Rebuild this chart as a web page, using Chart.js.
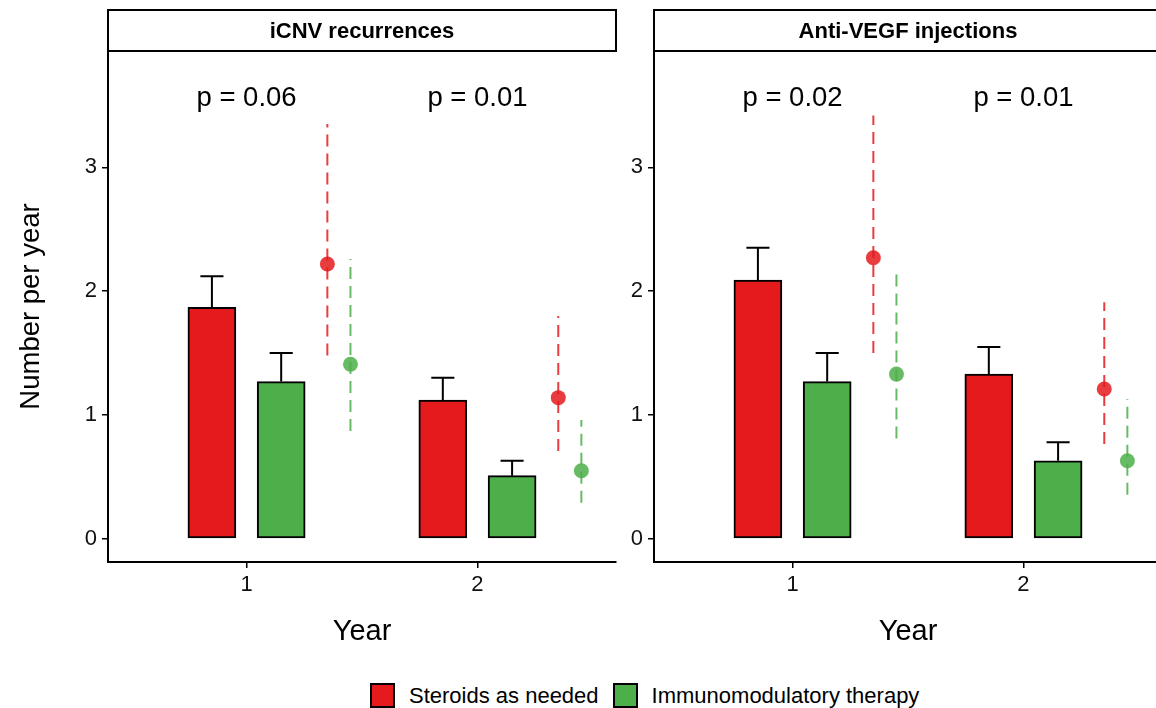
<!DOCTYPE html>
<html>
<head>
<meta charset="utf-8">
<title>iCNV recurrences and anti-VEGF injections</title>
<script src="https://cdn.jsdelivr.net/npm/chart.js@4.4.1/dist/chart.umd.min.js"></script>
<style>
    html, body {
        margin: 0;
        padding: 0;
        background: #fff;
        width: 1156px;
        height: 708px;
        overflow: hidden;
        font-family: "Liberation Sans", Arial, sans-serif;
    }
    .panel {
        position: absolute;
        top: 0;
    }
    #panel-left { left: 0; }
    #panel-right { left: 546px; }
    .legend {
        position: absolute;
        top: 683px;
        left: 370px;
        display: flex;
        align-items: center;
        font-size: 22px;
        line-height: 25px;
        color: #000;
        white-space: nowrap;
    }
    .legend .box {
        width: 21px;
        height: 21px;
        border: 2px solid #000;
        margin-right: 14px;
    }
    .legend .item {
        display: flex;
        align-items: center;
        margin-right: 14px;
    }
</style>
</head>
<body>
<canvas id="panel-left" class="panel" width="640" height="660"></canvas>
<canvas id="panel-right" class="panel" width="640" height="660"></canvas>
<div class="legend" id="legend"></div>

<script>
// ---- data ----
const years = [1, 2];
const yTicks = [0, 1, 2, 3];
const groups = ['Steroids as needed', 'Immunomodulatory therapy'];

// iCNV recurrences: bars = mean, whisker = mean + SE
const icnvSteroidMean = [1.87, 1.12];
const icnvSteroidUpper = [2.12, 1.30];
const icnvImmunoMean = [1.27, 0.51];
const icnvImmunoUpper = [1.50, 0.63];
// iCNV recurrences: model rate with 95% CI
const icnvSteroidRate = [2.22, 1.14];
const icnvSteroidLow = [1.48, 0.71];
const icnvSteroidHigh = [3.35, 1.80];
const icnvImmunoRate = [1.41, 0.55];
const icnvImmunoLow = [0.87, 0.29];
const icnvImmunoHigh = [2.26, 0.96];
const icnvPValues = ['p = 0.06', 'p = 0.01'];

// Anti-VEGF injections
const vegfSteroidMean = [2.09, 1.33];
const vegfSteroidUpper = [2.35, 1.55];
const vegfImmunoMean = [1.27, 0.63];
const vegfImmunoUpper = [1.50, 0.78];
const vegfSteroidRate = [2.27, 1.21];
const vegfSteroidLow = [1.50, 0.765];
const vegfSteroidHigh = [3.42, 1.91];
const vegfImmunoRate = [1.33, 0.63];
const vegfImmunoLow = [0.81, 0.355];
const vegfImmunoHigh = [2.17, 1.13];
const vegfPValues = ['p = 0.02', 'p = 0.01'];

// ---- styling ----
const RED = '#E41A1C';
const GREEN = '#4DAF4A';
const RED_A = 'rgba(228, 26, 28, 0.85)';
const GREEN_A = 'rgba(77, 175, 74, 0.85)';
const FONT = '"Liberation Sans", Arial, sans-serif';
const P_LABEL_Y = 3.56;

Chart.defaults.font.family = FONT;
Chart.defaults.color = '#000';

function ciSegments(xOffset, low, high) {
    const pts = [];
    years.forEach((yr, i) => {
        pts.push({ x: yr + xOffset, y: low[i] });
        pts.push({ x: yr + xOffset, y: high[i] });
        pts.push({ x: yr + xOffset, y: null });
    });
    return pts;
}

// strip title above the panel, ggplot style
const stripPlugin = {
    id: 'strip',
    afterDraw(chart, args, opts) {
        const { ctx, chartArea } = chart;
        ctx.save();
        ctx.fillStyle = '#fff';
        ctx.strokeStyle = '#000';
        ctx.lineWidth = 2;
        ctx.fillRect(chartArea.left, 10, chartArea.right - chartArea.left, chartArea.top - 10);
        ctx.strokeRect(chartArea.left, 10, chartArea.right - chartArea.left, chartArea.top - 10);
        ctx.fillStyle = '#000';
        ctx.font = `bold 22px ${FONT}`;
        ctx.textAlign = 'center';
        ctx.textBaseline = 'middle';
        ctx.fillText(opts.text, (chartArea.left + chartArea.right) / 2, (10 + chartArea.top) / 2 + 1);
        ctx.restore();
    }
};

// whiskers (mean + SE) on top of the bars, and p-value labels
const extrasPlugin = {
    id: 'extras',
    afterDatasetsDraw(chart, args, opts) {
        const { ctx } = chart;
        const xs = chart.scales.x;
        const ys = chart.scales.y;
        ctx.save();
        ctx.strokeStyle = '#000';
        ctx.lineWidth = 2;
        chart.data.datasets.forEach(ds => {
            if (!ds.upper) return;
            ds.data.forEach((pt, i) => {
                const x = xs.getPixelForValue(pt.x);
                const half = xs.getPixelForValue(pt.x + 0.05) - x;
                const yTop = ys.getPixelForValue(pt.y);
                const yUp = ys.getPixelForValue(ds.upper[i]);
                ctx.beginPath();
                ctx.moveTo(x, yTop);
                ctx.lineTo(x, yUp);
                ctx.moveTo(x - half, yUp);
                ctx.lineTo(x + half, yUp);
                ctx.stroke();
            });
        });
        ctx.fillStyle = '#000';
        ctx.font = `27.5px ${FONT}`;
        ctx.textAlign = 'center';
        ctx.textBaseline = 'middle';
        opts.pValues.forEach((p, i) => {
            ctx.fillText(p, xs.getPixelForValue(years[i]), ys.getPixelForValue(P_LABEL_Y));
        });
        ctx.restore();
    }
};

function makePanel(id, p) {
    const datasets = [
        {
            type: 'bar', label: groups[0], order: 3,
            data: years.map((yr, i) => ({ x: yr - 0.15, y: p.steroidMean[i] })),
            upper: p.steroidUpper,
            backgroundColor: RED, borderColor: '#000', borderWidth: 2, borderSkipped: false,
            barThickness: 48, grouped: false,
        },
        {
            type: 'bar', label: groups[1], order: 3,
            data: years.map((yr, i) => ({ x: yr + 0.15, y: p.immunoMean[i] })),
            upper: p.immunoUpper,
            backgroundColor: GREEN, borderColor: '#000', borderWidth: 2, borderSkipped: false,
            barThickness: 48, grouped: false,
        },
        {
            type: 'line', order: 2,
            data: ciSegments(0.35, p.steroidLow, p.steroidHigh),
            borderColor: RED_A, borderWidth: 2, borderDash: [12, 7],
            pointRadius: 0, spanGaps: false,
        },
        {
            type: 'line', order: 2,
            data: ciSegments(0.45, p.immunoLow, p.immunoHigh),
            borderColor: GREEN_A, borderWidth: 2, borderDash: [12, 7],
            pointRadius: 0, spanGaps: false,
        },
        {
            type: 'scatter', order: 1,
            data: years.map((yr, i) => ({ x: yr + 0.35, y: p.steroidRate[i] })),
            backgroundColor: RED_A, borderWidth: 0, pointRadius: 7.5,
        },
        {
            type: 'scatter', order: 1,
            data: years.map((yr, i) => ({ x: yr + 0.45, y: p.immunoRate[i] })),
            backgroundColor: GREEN_A, borderWidth: 0, pointRadius: 7.5,
        },
    ];

    return new Chart(document.getElementById(id), {
        type: 'bar',
        data: { datasets },
        plugins: [stripPlugin, extrasPlugin],
        options: {
            responsive: false,
            animation: false,
            layout: { padding: { top: 51, right: 24, left: 0, bottom: 0 } },
            plugins: {
                legend: { display: false },
                tooltip: { enabled: false },
                strip: { text: p.title },
                extras: { pValues: p.pValues },
            },
            scales: {
                x: {
                    type: 'linear',
                    min: 0.4,
                    max: 2.6,
                    offset: false,
                    afterBuildTicks: (s) => { s.ticks = years.map(v => ({ value: v })); },
                    afterFit: (s) => { s.height = 98; },
                    grid: { offset: false, drawOnChartArea: false, drawTicks: true, tickLength: 6, color: '#000', lineWidth: 1.5 },
                    border: { display: true, color: '#000', width: 2 },
                    ticks: { font: { size: 22 }, color: '#111', padding: 4, maxRotation: 0 },
                    title: { display: true, text: 'Year', font: { size: 29 }, color: '#000', padding: { top: 0, bottom: 11 } },
                },
                y: {
                    type: 'linear',
                    min: -0.1876,
                    max: 3.94,
                    afterBuildTicks: (s) => { s.ticks = yTicks.map(v => ({ value: v })); },
                    afterFit: (s) => { s.width = 108; },
                    grid: { drawOnChartArea: false, drawTicks: true, tickLength: 6, color: '#000', lineWidth: 1.5 },
                    border: { display: true, color: '#000', width: 2 },
                    ticks: { font: { size: 22 }, color: '#111', padding: 5 },
                    title: { display: p.showYTitle, text: 'Number per year', font: { size: 27.5 }, color: '#000', padding: { top: 15, bottom: 0 } },
                },
            },
        },
    });
}

makePanel('panel-left', {
    title: 'iCNV recurrences',
    showYTitle: true,
    steroidMean: icnvSteroidMean, steroidUpper: icnvSteroidUpper,
    immunoMean: icnvImmunoMean, immunoUpper: icnvImmunoUpper,
    steroidRate: icnvSteroidRate, steroidLow: icnvSteroidLow, steroidHigh: icnvSteroidHigh,
    immunoRate: icnvImmunoRate, immunoLow: icnvImmunoLow, immunoHigh: icnvImmunoHigh,
    pValues: icnvPValues,
});

makePanel('panel-right', {
    title: 'Anti-VEGF injections',
    showYTitle: false,
    steroidMean: vegfSteroidMean, steroidUpper: vegfSteroidUpper,
    immunoMean: vegfImmunoMean, immunoUpper: vegfImmunoUpper,
    steroidRate: vegfSteroidRate, steroidLow: vegfSteroidLow, steroidHigh: vegfSteroidHigh,
    immunoRate: vegfImmunoRate, immunoLow: vegfImmunoLow, immunoHigh: vegfImmunoHigh,
    pValues: vegfPValues,
});

// legend below both panels
const legendColors = [RED, GREEN];
document.getElementById('legend').innerHTML = groups.map((g, i) => `
    <div class="item"><div class="box" style="background:${legendColors[i]}"></div><span>${g}</span></div>
`).join('');
</script>
</body>
</html>
